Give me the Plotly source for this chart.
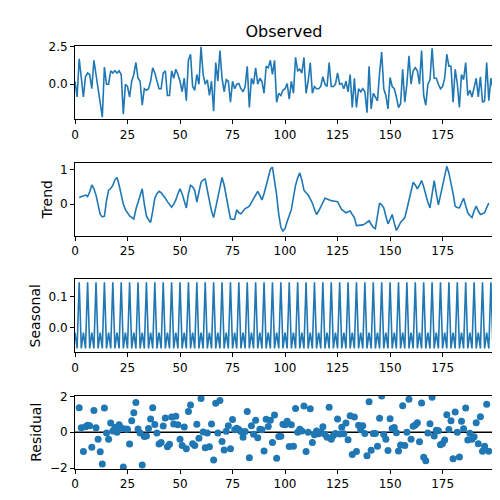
import numpy as np
import plotly.graph_objects as go
from plotly.subplots import make_subplots

observed = [
    0.2, -0.85, 1.7, 0.4, -0.85, 0.5, 0.75, 0.65, -0.3, 1.6,
    0.65, -0.5, -1.4, -2.2, 1.15, 0.0, 0.0, 0.9, 0.75, 0.9,
    0.75, 0.9, 0.65, -2.0, 0.0, -0.15, -0.85, 0.2, 0.65, 1.45,
    0.4, 0.2, -1.4, -0.3, -0.4, -0.3, 0.2, 1.1, 0.75, 0.2,
    -0.3, -0.3, 0.75, 0.9, -0.75, -0.75, 0.9, 0.4, 1.0, 0.65,
    0.2, -0.5, 0.4, -1.1, 1.6, 2.0, -0.15, -0.4, 0.65, 0.0,
    2.5, 0.65, 0.0, 0.3, -0.75, 0.2, -1.8, 1.45, 0.2, 2.25,
    0.4, -0.5, 0.3, 0.2, -1.2, 0.2, -0.3, 0.0, 0.05, -0.3,
    -0.5, -0.15, 1.2, -1.55, 0.4, 0.0, 1.1, 0.0, 0.4, 0.2,
    -0.6, 1.2, 1.1, 1.6, 0.65, 1.6, -1.2, -0.6, -0.75, -0.4,
    -0.3, 0.05, -1.0, 0.2, -0.6, 1.8, 0.9, 1.0, 0.75, 1.8,
    -0.6, 0.2, 1.45, -0.6, -0.15, -0.3, -0.3, -0.15, 0.5, 0.0,
    -0.15, 1.45, -0.15, -0.15, 0.0, 0.75, 0.0, 0.05, -0.3, 0.2,
    -0.5, 0.65, -1.55, 0.4, -1.55, -0.3, -0.5, -0.3, -0.5, -1.9,
    1.2, -1.65, -0.6, -0.85, -1.1, 0.75, 2.15, -0.3, -0.75, -1.65,
    0.45, -0.15, -0.3, -0.85, -1.55, -1.3, 1.0, -1.2, 0.0, 1.9,
    0.0, 0.9, 1.1, 0.9, 0.0, 2.25, -0.75, -1.4, 0.0, 0.3,
    2.4, 0.4, 0.4, 0.0, -0.3, -0.15, 0.4, 2.0, 1.2, 1.2,
    -1.2, 1.0, 0.05, -1.55, 0.65, 0.3, 1.45, -0.75, -0.4, -0.85,
    -0.3, 0.4, -0.85, 0.5, -1.2, -1.1, 1.45, -1.1, 0.4, -0.3,
]

# trend is undefined for the first and last two points (period 4)
trend = [None, None,
    0.19, 0.22, 0.24, 0.26, 0.22, 0.35, 0.55, 0.45, 0.26, -0.05,
    -0.3, -0.37, -0.35, 0.1, 0.4, 0.45, 0.54, 0.7, 0.77, 0.55,
    0.26, 0.0, -0.16, -0.25, -0.34, -0.38, -0.43, -0.15, 0.07, 0.3,
    0.44, 0.0, -0.34, -0.45, -0.53, -0.2, 0.17, 0.3, 0.37, 0.33,
    0.26, 0.17, 0.07, -0.02, -0.09, 0.0, 0.12, 0.3, 0.44, 0.3,
    0.12, -0.11, 0.3, 0.54, 0.5, 0.4, 0.06, 0.4, 0.63, 0.7,
    0.72, 0.4, 0.07, -0.2, -0.39, -0.1, 0.26, 0.55, 0.77, 0.55,
    0.26, -0.1, -0.42, -0.44, -0.43, -0.16, -0.25, -0.28, -0.2, -0.13,
    -0.1, -0.06, 0.05, 0.17, 0.28, 0.37, 0.25, 0.12, 0.3, 0.54,
    0.8, 1.0, 1.07, 0.7, 0.26, -0.3, -0.67, -0.78, -0.7, -0.5,
    -0.35, -0.16, 0.2, 0.54, 0.75, 0.9, 0.7, 0.4, 0.33, 0.26,
    0.15, 0.03, -0.15, -0.3, -0.2, -0.09, 0.05, 0.17, 0.15, 0.12,
    0.1, 0.09, 0.08, 0.07, -0.05, -0.16, -0.2, -0.25, -0.22, -0.2,
    -0.3, -0.39, -0.62, -0.62, -0.62, -0.6, -0.57, -0.52, -0.48, -0.58,
    -0.67, -0.71, -0.3, 0.03, -0.02, -0.11, -0.35, -0.57, -0.45, -0.3,
    -0.55, -0.76, -0.65, -0.53, -0.46, -0.39, -0.15, 0.12, 0.4, 0.63,
    0.55, 0.44, 0.55, 0.68, 0.5, 0.26, 0.05, -0.11, 0.3, 0.68,
    0.3, -0.02, 0.25, 0.54, 0.85, 1.09, 0.9, 0.63, 0.3, -0.06,
    -0.1, -0.11, 0.05, 0.17, -0.05, -0.25, -0.33, -0.39, -0.2, -0.06,
    -0.2, -0.3, -0.28, -0.25, -0.1, 0.03,
    None, None]

season_pattern = [-0.015, -0.065, 0.145, -0.065]

x = np.arange(len(observed))
obs = np.array(observed, dtype=float)
tr = np.array([np.nan if v is None else v for v in trend])
seasonal = np.array(season_pattern * (len(observed) // 4))
resid = obs - tr - seasonal

blue = '#1f77b4'
fig = make_subplots(rows=4, cols=1, vertical_spacing=0.1017)
fig.add_trace(go.Scatter(x=x, y=obs, mode='lines', line=dict(color=blue, width=1.6)), row=1, col=1)
fig.add_trace(go.Scatter(x=x, y=tr, mode='lines', line=dict(color=blue, width=1.6)), row=2, col=1)
fig.add_trace(go.Scatter(x=x, y=seasonal, mode='lines', line=dict(color=blue, width=1.6)), row=3, col=1)
fig.add_trace(go.Scatter(x=x, y=resid, mode='markers',
                         marker=dict(color=blue, size=7)), row=4, col=1)
fig.add_shape(type='line', x0=0, x1=199, y0=0, y1=0, xref='x4', yref='y4',
              line=dict(color='black', width=1.3), layer='below')

axis = dict(showline=True, linecolor='black', linewidth=1, mirror=True, ticks='outside',
            ticklen=4, tickcolor='black', showgrid=False, zeroline=False, automargin=False,
            tickfont=dict(size=12, color='black'))
for r in range(1, 5):
    fig.update_xaxes(range=[0, 199], tickvals=[0, 25, 50, 75, 100, 125, 150, 175], row=r, col=1, **axis)

fig.update_yaxes(range=[-2.35, 2.55], tickvals=[0, 2.5], tickformat='.1f', row=1, col=1, **axis)
fig.update_yaxes(range=[-0.92, 1.2], tickvals=[0, 1], title_text='Trend', row=2, col=1, **axis)
fig.update_yaxes(range=[-0.078, 0.155], tickvals=[0, 0.1], tickformat='.1f', title_text='Seasonal', row=3, col=1, **axis)
fig.update_yaxes(range=[-2.05, 2.05], tickvals=[-2, 0, 2], title_text='Residual', row=4, col=1, **axis)
fig.update_yaxes(title_standoff=4)

fig.update_layout(
    width=500, height=500, showlegend=False,
    plot_bgcolor='white', paper_bgcolor='white',
    font=dict(family='DejaVu Sans', size=12, color='black'),
    margin=dict(l=67, r=15, t=38, b=39),
    title=dict(text='Observed', x=0.552, xanchor='center', y=0.954, yanchor='middle',
               font=dict(size=16)),
)

fig.write_html("out.html")
